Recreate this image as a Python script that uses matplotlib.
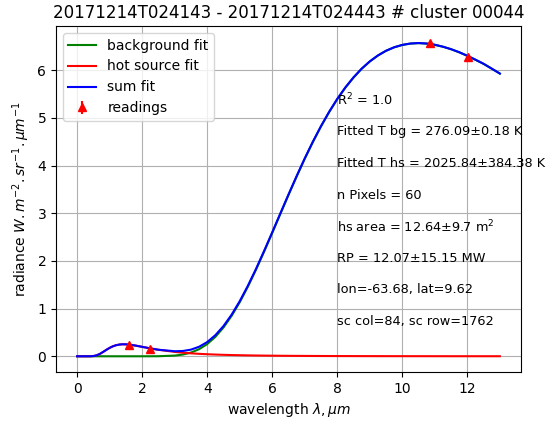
import numpy as np
import matplotlib.pyplot as plt

# wavelength grid (um) and fitted radiance curves
wavelength = [0.0, 0.25, 0.4, 0.5, 0.6, 0.7, 0.8, 0.9, 1.0, 1.1, 1.2, 1.3, 1.4, 1.5, 1.6,
              1.8, 2.0, 2.25, 2.5, 3.0, 3.25, 3.5, 3.75, 4.0, 4.25, 4.5, 4.75, 5.0,
              5.25, 5.5, 5.75, 6.0, 6.25, 6.5, 6.75, 7.0, 7.25, 7.5, 7.75, 8.0,
              8.25, 8.5, 8.75, 9.0, 9.25, 9.5, 9.75, 10.0, 10.25, 10.5, 10.75, 11.0,
              11.25, 11.5, 11.75, 12.0, 12.25, 12.5, 12.75, 13.0]

background_fit = [0, 0, 0, 0, 0, 0, 0, 0, 0, 0, 0, 0, 0, 0, 0,
                  0, 0, 0.0002, 0.0011, 0.0140, 0.0357, 0.0774, 0.1480, 0.2556, 0.4061,
                  0.603, 0.8469, 1.134,
                  1.460, 1.816, 2.196, 2.589, 2.988, 3.385, 3.772, 4.145, 4.497, 4.824,
                  5.124, 5.396, 5.638, 5.849, 6.032, 6.185, 6.310, 6.409, 6.482, 6.532,
                  6.561, 6.571, 6.561, 6.535, 6.495, 6.443, 6.379, 6.304, 6.222, 6.136,
                  6.035, 5.932]

hot_source_fit = [0, 0, 0.0004, 0.0047, 0.0199, 0.0500, 0.0912, 0.1358, 0.1767, 0.2094,
                  0.2324, 0.2459, 0.2513, 0.2502, 0.2443, 0.2238, 0.1979, 0.1653, 0.1361,
                  0.0917, 0.0749, 0.0618, 0.0512, 0.0427, 0.0358, 0.0302, 0.0256, 0.0219,
                  0.0187, 0.0162, 0.0140, 0.0122, 0.0106, 0.0093, 0.0082, 0.0073, 0.0064,
                  0.0057, 0.0051, 0.0046, 0.0041, 0.0037, 0.0033, 0.0030, 0.0027, 0.0025,
                  0.0023, 0.0021, 0.0019, 0.0017, 0.0016, 0.0015, 0.0014, 0.0012, 0.0012,
                  0.0011, 0.0010, 0.0009, 0.0009, 0.0008]

readings_wl = [1.61, 2.25, 10.84, 12.01]
readings_rad = [0.235, 0.155, 6.58, 6.27]
readings_err = [0.01, 0.01, 0.02, 0.02]

sum_fit = np.add(background_fit, hot_source_fit)

info_lines = [
    'R$^2$ = 1.0',
    'Fitted T bg = 276.09\u00b10.18 K',
    'Fitted T hs = 2025.84\u00b1384.38 K',
    'n Pixels = 60',
    'hs area = 12.64\u00b19.7 m$^2$',
    'RP = 12.07\u00b115.15 MW',
    'lon=-63.68, lat=9.62',
    'sc col=84, sc row=1762',
]

fig = plt.figure(figsize=(5.55, 4.21), dpi=100)
ax = fig.add_axes([0.1009, 0.1164, 0.8378, 0.8218])

ax.plot(wavelength, background_fit, color='green', label='background fit')
ax.plot(wavelength, hot_source_fit, color='red', label='hot source fit')
ax.plot(wavelength, sum_fit, color='blue', label='sum fit')
ax.errorbar(readings_wl, readings_rad, yerr=readings_err, fmt='r^', label='readings')

for i, line in enumerate(info_lines):
    ax.text(8.0, 5.37 - 0.662 * i, line, va='center', ha='left', fontsize=9.3)

ax.grid(True)
ax.legend(loc='upper left')
ax.set_title('20171214T024143 - 20171214T024443 # cluster 00044')
ax.set_xlabel('wavelength $\\lambda, \\mu m$')
ax.set_ylabel('radiance $W.m^{-2}.sr^{-1}.\\mu m^{-1}$')

fig.savefig('out.png')
